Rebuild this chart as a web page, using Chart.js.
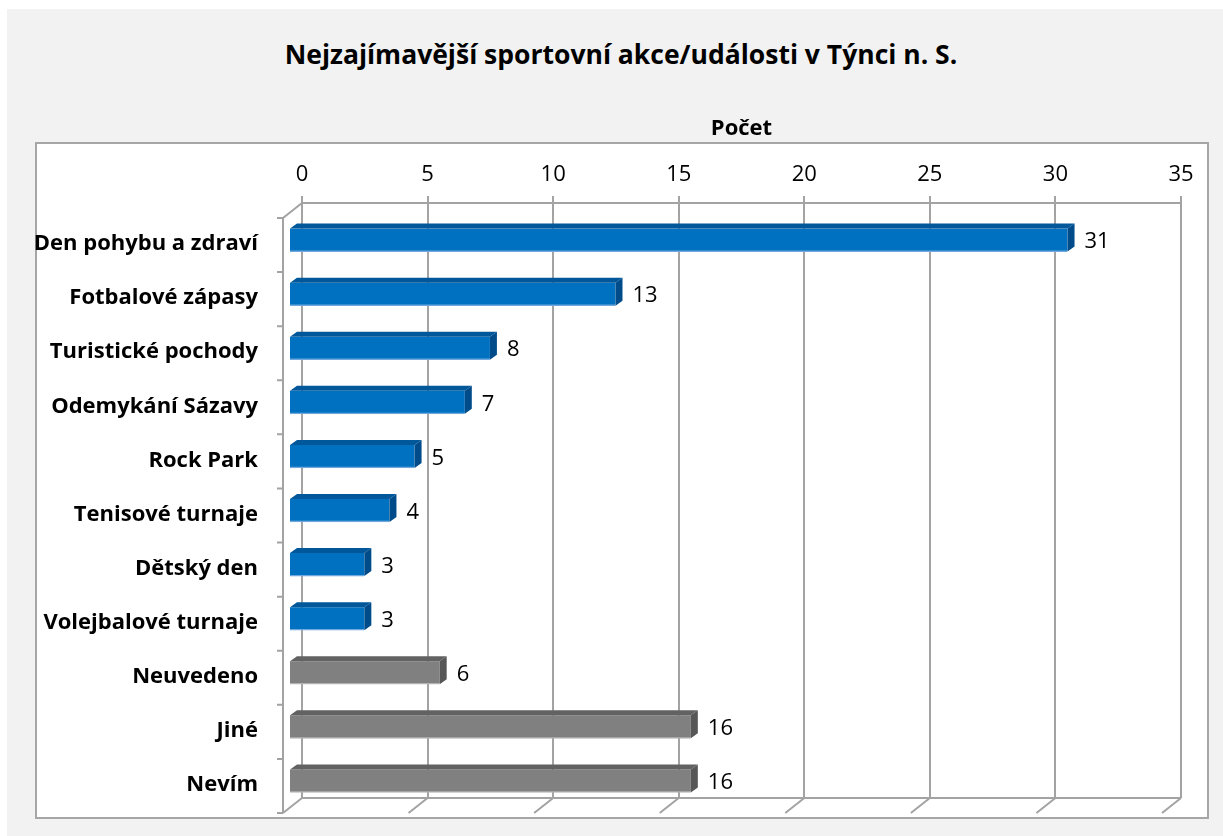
<!DOCTYPE html>
<html>
<head>
<meta charset="utf-8">
<script src="https://cdn.jsdelivr.net/npm/chart.js@4.4.1/dist/chart.umd.min.js"></script>
<style>
  html, body { margin: 0; padding: 0; width: 1223px; height: 836px; overflow: hidden; background: #fff; font-family: 'Open Sans', sans-serif; }
  #panel { position: absolute; left: 7px; top: 9px; width: 1216px; height: 827px; background: #f2f2f2; }
  #box { position: absolute; left: 35px; top: 142px; width: 1170px; height: 673px; background: #fff; border: 2px solid #a6a6a6; }
  #title { position: absolute; left: 0; top: 37px; width: 1242px; text-align: center; font-weight: bold; font-size: 26.5px; line-height: 34px; color: #000; }
  #chart { position: absolute; left: 0; top: 0; }
</style>
</head>
<body>
<div id="panel"></div>
<div id="box"></div>
<div id="title">Nejzajímavější sportovní akce/události v Týnci n. S.</div>
<canvas id="chart" width="1223" height="836"></canvas>
<script>
// Data
const labels = ['Den pohybu a zdraví', 'Fotbalové zápasy', 'Turistické pochody', 'Odemykání Sázavy',
  'Rock Park', 'Tenisové turnaje', 'Dětský den', 'Volejbalové turnaje', 'Neuvedeno', 'Jiné', 'Nevím'];
const counts = [31, 13, 8, 7, 5, 4, 3, 3, 6, 16, 16];
const xTicks = [0, 5, 10, 15, 20, 25, 30, 35];
const axisTitle = 'Počet';

// Styles
const GRID = '#a3a3a3';
const blue = { front: '#0070c0', top: '#00579a', side: '#004c8a', edge: '#6fa8dc' };
const gray = { front: '#808080', top: '#626262', side: '#575757', edge: '#b3b3b3' };
const palette = counts.map((v, i) => i < 8 ? blue : gray);

// 3D offsets
const DX = -13, DY = 10;          // front face of bars relative to back wall
const DEPTH_X = 7, DEPTH_Y = -5;  // bar depth
const WALL_X = -19, WALL_Y = 15;  // front edge of wall/floor

const threeD = {
  id: 'threeD',
  beforeDatasetsDraw(chart) {
    const { ctx, chartArea: a, scales: { x, y } } = chart;
    ctx.save();
    ctx.strokeStyle = GRID;
    ctx.lineWidth = 2;
    ctx.beginPath();
    // floor back edge
    ctx.moveTo(a.left, a.bottom);
    ctx.lineTo(a.right, a.bottom);
    // floor diagonals
    xTicks.forEach(v => {
      const px = x.getPixelForValue(v);
      ctx.moveTo(px, a.bottom);
      ctx.lineTo(px + WALL_X, a.bottom + WALL_Y);
    });
    // left wall
    ctx.moveTo(a.left, a.top);
    ctx.lineTo(a.left + WALL_X, a.top + WALL_Y);
    ctx.lineTo(a.left + WALL_X, a.bottom + WALL_Y);
    // category ticks on front edge
    const step = (a.bottom - a.top) / labels.length;
    for (let i = 0; i <= labels.length; i++) {
      const py = a.top + WALL_Y + step * i;
      ctx.moveTo(a.left + WALL_X, py);
      ctx.lineTo(a.left + WALL_X - 6, py);
    }
    ctx.stroke();
    ctx.restore();

    // y labels
    ctx.save();
    ctx.fillStyle = '#000';
    ctx.font = 'bold 22px "Open Sans"';
    ctx.textAlign = 'right';
    ctx.textBaseline = 'middle';
    labels.forEach((l, i) => {
      ctx.fillText(l, a.left + WALL_X - 25, y.getPixelForValue(i) + 14);
    });
    ctx.restore();

    ctx.save();
    ctx.translate(DX, DY);
  },
  afterDatasetsDraw(chart) {
    const { ctx } = chart;
    const meta = chart.getDatasetMeta(0);
    meta.data.forEach((bar, i) => {
      const c = palette[i];
      const x0 = bar.base, x1 = bar.x;
      const y0 = bar.y - bar.height / 2, y1 = bar.y + bar.height / 2;
      // top face
      ctx.fillStyle = c.top;
      ctx.beginPath();
      ctx.moveTo(x0, y0);
      ctx.lineTo(x0 + DEPTH_X, y0 + DEPTH_Y);
      ctx.lineTo(x1 + DEPTH_X, y0 + DEPTH_Y);
      ctx.lineTo(x1, y0);
      ctx.closePath();
      ctx.fill();
      // side face
      ctx.fillStyle = c.side;
      ctx.beginPath();
      ctx.moveTo(x1, y0);
      ctx.lineTo(x1 + DEPTH_X, y0 + DEPTH_Y);
      ctx.lineTo(x1 + DEPTH_X, y1 + DEPTH_Y);
      ctx.lineTo(x1, y1);
      ctx.closePath();
      ctx.fill();
      // value label
      ctx.fillStyle = '#000';
      ctx.font = '22px "Open Sans"';
      ctx.textAlign = 'left';
      ctx.textBaseline = 'middle';
      ctx.fillText(String(counts[i]), x1 + DEPTH_X + 10, bar.y + 2);
    });
    ctx.restore();
  }
};

new Chart(document.getElementById('chart'), {
  type: 'bar',
  data: {
    labels: labels,
    datasets: [{
      data: counts,
      backgroundColor: palette.map(c => c.front),
      borderColor: palette.map(c => c.edge),
      borderWidth: { bottom: 1.5 },
      borderSkipped: 'start',
      barThickness: 23,
      clip: false
    }]
  },
  options: {
    indexAxis: 'y',
    responsive: false,
    animation: false,
    devicePixelRatio: 1,
    layout: { padding: { left: 302, right: 42, top: 0, bottom: 38 } },
    plugins: { legend: { display: false }, tooltip: { enabled: false } },
    scales: {
      x: {
        position: 'top',
        min: 0,
        max: 35,
        afterBuildTicks: (scale) => { scale.ticks = xTicks.map(v => ({ value: v })); },
        afterFit: (scale) => { scale.height = 203; },
        grid: { color: GRID, lineWidth: 2, tickLength: 7, drawTicks: true },
        border: { display: true, color: GRID, width: 2 },
        ticks: { color: '#000', font: { family: 'Open Sans', size: 22 }, padding: 8 },
        title: { display: true, text: axisTitle, color: '#000', font: { family: 'Open Sans', size: 22, weight: 'bold' }, padding: { top: 116 } }
      },
      y: {
        display: false,
        grid: { display: false }
      }
    }
  },
  plugins: [threeD]
});
</script>
</body>
</html>
